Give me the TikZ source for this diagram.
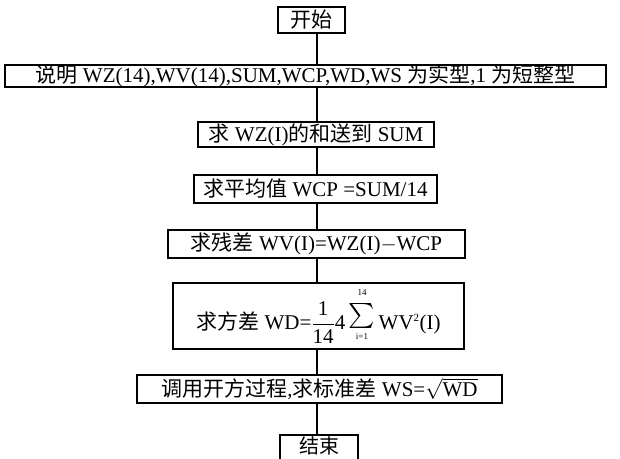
\documentclass[tikz,border=0pt]{standalone}
\usepackage{graphicx}
\usepackage{fontspec}
\setmainfont{Liberation Serif}
\newfontfamily\cjk{Noto Sans CJK SC}
\newcommand\zh[1]{{\cjk #1}}
\newcommand\sm[2]{\mbox{\fontsize{#1}{#1}\selectfont #2}}
\begin{document}
\begin{tikzpicture}[x=1pt,y=-1pt,
  box/.style={draw, line width=1.7pt, inner sep=0pt, font=\fontsize{21}{24}\selectfont},
  link/.style={line width=1.4pt}]
\useasboundingbox (0,0) rectangle (620,458);
\coordinate (axis) at (317,0);
\node[box, minimum width=67pt, minimum height=26pt] (start) at (311.5,20) {\zh{开始}};
\node[box, minimum width=601pt, minimum height=22pt] (decl) at (305.5,76) {\zh{说明} WZ(14),WV(14),SUM,WCP,WD,WS \zh{为实型},1 \zh{为短整型}};
\node[box, minimum width=236pt, minimum height=25pt] (sum) at (316,134.5) {\zh{求} WZ(I)\zh{的和送到} SUM};
\node[box, minimum width=243pt, minimum height=28pt] (avg) at (315.5,189) {\zh{求平均值} WCP =SUM/14};
\node[box, minimum width=297pt, minimum height=28pt] (res) at (316.5,244) {\zh{求残差} WV(I)=WZ(I)$-$WCP};
\node[box, minimum width=291pt, minimum height=66pt] (var) at (318.5,316) {\zh{求方差} WD=$\displaystyle\frac{\mbox{1}}{\mbox{14}}$4\,$\displaystyle\mathop{\scalebox{2.5}{$\sum$}}\limits_{\raisebox{-4pt}{\sm{9}{i=1}}}^{\raisebox{6pt}{\sm{9}{14}}}$\,WV$^{\sm{11}{2}}$(I)};
\node[box, minimum width=365pt, minimum height=28pt] (call) at (319.5,389) {\zh{调用开方过程},\zh{求标准差} WS=$\sqrt{\mbox{WD}}$};
\node[box, minimum width=78pt, minimum height=28pt] (end) at (319,449) {};
\node[font=\fontsize{20}{22}\selectfont, inner sep=0pt] (endtext) at (319,446) {\zh{结束}};
\draw[link] (start.south -| axis) -- (decl.north -| axis);
\draw[link] (decl.south -| axis) -- (sum.north -| axis);
\draw[link] (sum.south -| axis) -- (avg.north -| axis);
\draw[link] (avg.south -| axis) -- (res.north -| axis);
\draw[link] (res.south -| axis) -- (var.north -| axis);
\draw[link] (var.south -| axis) -- (call.north -| axis);
\draw[link] (call.south -| axis) -- (end.north -| axis);
\end{tikzpicture}
\end{document}
